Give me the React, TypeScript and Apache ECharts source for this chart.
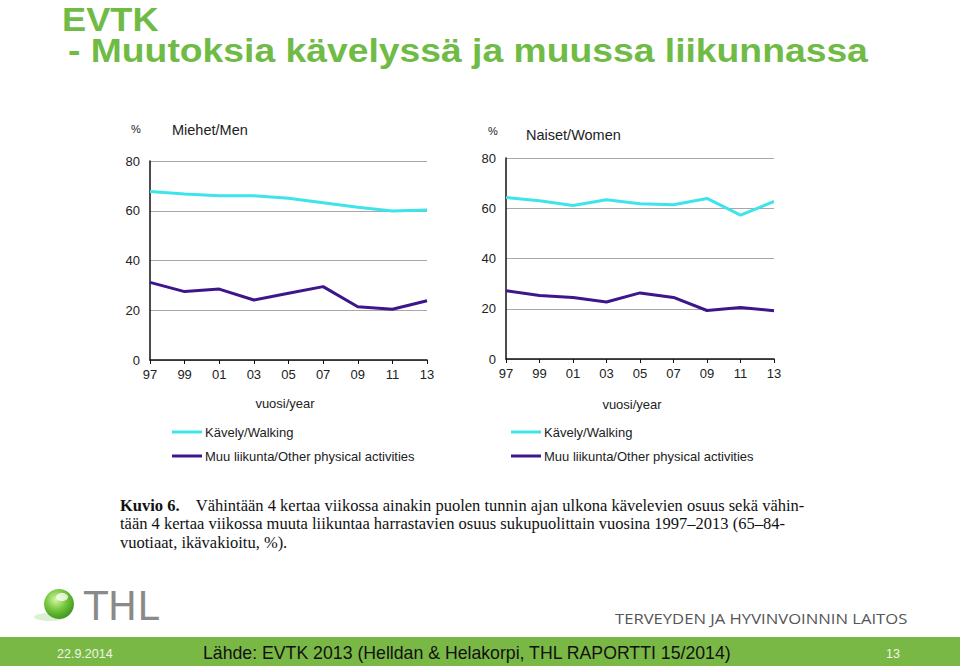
import React, { useEffect, useRef } from "react";
import * as echarts from "echarts";

const years = ["97", "99", "01", "03", "05", "07", "09", "11", "13"];
const menWalking = [67.7, 66.7, 66.0, 66.0, 65.0, 63.2, 61.4, 59.9, 60.3];
const menOther = [31.2, 27.5, 28.5, 24.1, 26.8, 29.5, 21.4, 20.4, 23.8];
const womenWalking = [64.3, 63.0, 61.1, 63.4, 61.8, 61.4, 63.9, 57.3, 62.7];
const womenOther = [27.2, 25.3, 24.5, 22.7, 26.3, 24.5, 19.3, 20.5, 19.2];
const seriesNames = ["Kävely/Walking", "Muu liikunta/Other physical activities"];
const yTicks = { min: 0, max: 80, interval: 20 };

const CYAN = "#3fe3ea";
const PURPLE = "#3d168c";
const GREEN = "#6fbb46";
const BAND = "#7ab845";
const SANS = "Liberation Sans, Arial, sans-serif";
const SERIF = "Liberation Serif, Times New Roman, serif";

export default function App() {
  const ref = useRef<HTMLDivElement>(null);
  useEffect(() => {
    document.body.style.margin = "0";
    const chart = echarts.init(ref.current!, null, { renderer: "svg" });
    const axisLabel = { color: "#222", fontSize: 13, fontFamily: SANS };
    const xAxisBase = {
      type: "category" as const,
      data: years,
      boundaryGap: false,
      axisLine: { lineStyle: { color: "#111", width: 1.5 } },
      axisTick: { show: true, alignWithLabel: true, length: 4, lineStyle: { color: "#111" } },
      axisLabel: { ...axisLabel, margin: 8 },
      splitLine: { show: false },
    };
    const yAxisBase = {
      type: "value" as const,
      min: yTicks.min,
      max: yTicks.max,
      interval: yTicks.interval,
      axisLine: { show: true, lineStyle: { color: "#111", width: 1.5 } },
      axisTick: { show: false },
      axisLabel: { ...axisLabel, margin: 10 },
      splitLine: { show: true, lineStyle: { color: "#a8a8a8", width: 1 } },
    };
    const line = (name: string, data: number[], color: string, idx: number) => ({
      name,
      type: "line" as const,
      data,
      xAxisIndex: idx,
      yAxisIndex: idx,
      symbol: "none",
      lineStyle: { color, width: 3 },
      itemStyle: { color },
    });
    const legendBase = (left: number) => ({
      left,
      top: 425,
      padding: 0,
      orient: "vertical" as const,
      icon: "rect",
      itemWidth: 30,
      itemHeight: 3,
      itemGap: 10,
      selectedMode: false,
      textStyle: { color: "#222", fontSize: 13, lineHeight: 14, fontFamily: SANS, padding: [0, 0, 0, -2] },
      data: seriesNames,
    });
    const txt = (x: number, y: number, text: string, style: any, extra: any = {}) => ({
      type: "text",
      x,
      y,
      ...extra,
      style: { text, textVerticalAlign: "middle", fontFamily: SANS, ...style },
    });
    chart.setOption({
      animation: false,
      backgroundColor: "#fff",
      grid: [
        { left: 150, top: 161, width: 277, height: 199 },
        { left: 506, top: 158, width: 268, height: 201 },
      ],
      xAxis: [
        { ...xAxisBase, gridIndex: 0 },
        { ...xAxisBase, gridIndex: 1 },
      ],
      yAxis: [
        { ...yAxisBase, gridIndex: 0 },
        { ...yAxisBase, gridIndex: 1 },
      ],
      legend: [legendBase(172), legendBase(511)],
      series: [
        line(seriesNames[0], menWalking, CYAN, 0),
        line(seriesNames[1], menOther, PURPLE, 0),
        line(seriesNames[0], womenWalking, CYAN, 1),
        line(seriesNames[1], womenOther, PURPLE, 1),
      ],
      graphic: [
        // title
        txt(62, 19, "EVTK", { fill: GREEN, fontSize: 34, fontWeight: "bold" }, { scaleX: 1.065 }),
        txt(68, 50, "- Muutoksia kävelyssä ja muussa liikunnassa", { fill: GREEN, fontSize: 33, fontWeight: "bold" }, { scaleX: 1.13 }),
        // panel titles
        txt(131, 129, "%", { fill: "#222", fontSize: 11 }),
        txt(172, 130, "Miehet/Men", { fill: "#222", fontSize: 14.5 }),
        txt(488, 131, "%", { fill: "#222", fontSize: 11 }),
        txt(526, 135, "Naiset/Women", { fill: "#222", fontSize: 14.5 }),
        txt(285, 403, "vuosi/year", { fill: "#222", fontSize: 13, textAlign: "center" }),
        txt(632, 404, "vuosi/year", { fill: "#222", fontSize: 13, textAlign: "center" }),
        // caption
        {
          type: "text",
          x: 120,
          y: 505,
          style: {
            text: "{b|Kuvio 6.}    Vähintään 4 kertaa viikossa ainakin puolen tunnin ajan ulkona kävelevien osuus sekä vähin-",
            textVerticalAlign: "middle",
            fontFamily: SERIF,
            fontSize: 16.5,
            fill: "#111",
            rich: { b: { fontWeight: "bold", fontSize: 16.5, fontFamily: SERIF, fill: "#111" } },
          },
        },
        txt(120, 523, "tään 4 kertaa viikossa muuta liikuntaa harrastavien osuus sukupuolittain vuosina 1997–2013 (65–84-", {
          fill: "#111",
          fontSize: 16.5,
          fontFamily: SERIF,
        }),
        txt(120, 542, "vuotiaat, ikävakioitu, %).", { fill: "#111", fontSize: 16.5, fontFamily: SERIF }),
        // logo
        { type: "ellipse", shape: { cx: 50, cy: 617, rx: 16, ry: 4 }, style: { fill: "rgba(120,190,80,0.25)" } },
        {
          type: "circle",
          shape: { cx: 59, cy: 604, r: 15 },
          style: {
            fill: new echarts.graphic.RadialGradient(0.4, 0.35, 0.75, [
              { offset: 0, color: "#d8f5a8" },
              { offset: 0.45, color: "#78c840" },
              { offset: 1, color: "#2e8a18" },
            ]),
          },
        },
        { type: "ellipse", shape: { cx: 62, cy: 597, rx: 6, ry: 4 }, style: { fill: "rgba(255,255,255,0.75)" } },
        txt(84, 606, "THL", { fill: "#8a8a8a", fontSize: 39, fontFamily: "DejaVu Sans, sans-serif", fontWeight: "normal" }),
        txt(615, 618, "TERVEYDEN JA HYVINVOINNIN LAITOS", { fill: "#555", fontSize: 15, fontFamily: "Open Sans, sans-serif" }, { scaleX: 1.11 }),
        // footer band
        { type: "rect", shape: { x: 0, y: 637, width: 960, height: 29 }, style: { fill: BAND } },
        txt(57, 654, "22.9.2014", { fill: "#eef5e6", fontSize: 12.5 }),
        txt(203, 653, "Lähde: EVTK 2013 (Helldan & Helakorpi, THL RAPORTTI 15/2014)", { fill: "#111", fontSize: 17.7 }),
        txt(886, 654, "13", { fill: "#eef5e6", fontSize: 12.5 }),
      ],
    });
    return () => chart.dispose();
  }, []);
  return <div ref={ref} style={{ position: "fixed", left: 0, top: 0, width: 960, height: 666, background: "#fff" }} />;
}
